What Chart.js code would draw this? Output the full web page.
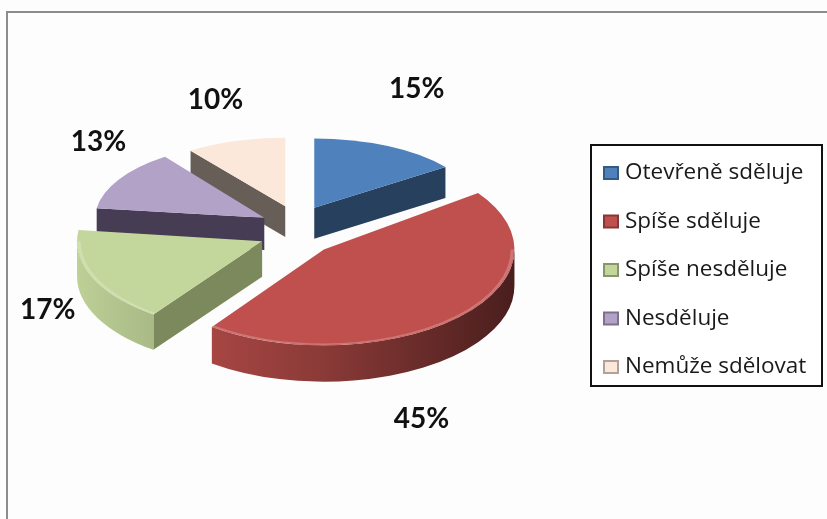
<!DOCTYPE html>
<html lang="cs">
<head>
<meta charset="UTF-8">
<title>Sdělování</title>
<script src="https://cdn.jsdelivr.net/npm/chart.js@4.4.0/dist/chart.umd.min.js"></script>
<style>
  html, body { margin: 0; padding: 0; background: #fdfdfd; }
  #wrap { position: relative; width: 827px; height: 519px; overflow: hidden; }
  #frame { position: absolute; left: 6px; top: 11px; width: 900px; height: 600px;
           border-left: 2px solid #8c8c8c; border-top: 2px solid #8c8c8c; }
  canvas { position: absolute; left: 0; top: 0; }
</style>
</head>
<body>
<div id="wrap">
  <div id="frame"></div>
  <canvas id="chart" width="827" height="519"></canvas>
</div>
<script>
const labels = ["Otevřeně sděluje", "Spíše sděluje", "Spíše nesděluje", "Nesděluje", "Nemůže sdělovat"];
const shares = [15, 45, 17, 13, 10];
const topColors = ["#4f81bd", "#c0504d", "#c3d69b", "#b2a2c7", "#fbe8da"];
const faceColors = ["#27405e", "#8a302d", "#7b895c", "#463c54", "#675e58"];

// 3d look of the pie
const TILT = 0.47;      // vertical squash of the top surface
const DEPTH = 34;       // thickness of the pie in px
const EXPLODE_X = 38;   // how far slices are pulled apart
const EXPLODE_Y = 26;
const PERSP = 0.1;      // front slices a bit bigger than back ones
const PERSP_Y = 0.1;
const labelGap = 55;
const labelNudge = [[4, -8], [-76, 26], [6, -24], [27, -9], [-3, 11]];

function shade(hex, f) {
  const n = parseInt(hex.slice(1), 16);
  const r = Math.round(((n >> 16) & 255) * f);
  const g = Math.round(((n >> 8) & 255) * f);
  const b = Math.round((n & 255) * f);
  return `rgb(${r},${g},${b})`;
}

function geom(arc) {
  const p = arc.getProps(["x", "y", "startAngle", "endAngle", "outerRadius"]);
  const mid = (p.startAngle + p.endAngle) / 2;
  const s = 1 + PERSP * Math.sin(mid);
  const sy = s * TILT * (1 + PERSP_Y * Math.sin(mid));
  return Object.assign(p, {
    mid, s, sy,
    ax: p.x + Math.cos(mid) * EXPLODE_X,
    ay: p.y + Math.sin(mid) * EXPLODE_Y,
    depth: DEPTH * s
  });
}

const pie3d = {
  id: "pie3d",
  beforeDatasetDraw(chart, args) {
    const ctx = chart.ctx;
    const arcs = args.meta.data;
    const order = arcs.map((a, i) => i)
      .sort((i, j) => Math.sin(geom(arcs[i]).mid) - Math.sin(geom(arcs[j]).mid));

    order.forEach(i => {
      const arc = arcs[i];
      const g = geom(arc);
      const r = g.outerRadius;
      const dl = g.depth / g.sy;
      ctx.save();
      ctx.translate(g.ax, g.ay);
      ctx.scale(g.s, g.sy);

      // radial cut faces that look towards the viewer
      const face = a => {
        ctx.beginPath();
        ctx.moveTo(0, 0);
        ctx.lineTo(r * Math.cos(a), r * Math.sin(a));
        ctx.lineTo(r * Math.cos(a), r * Math.sin(a) + dl);
        ctx.lineTo(0, dl);
        ctx.closePath();
        ctx.fillStyle = faceColors[i];
        ctx.fill();
      };
      if (Math.cos(g.startAngle) < -1e-6) face(g.startAngle);
      if (Math.cos(g.endAngle) > 1e-6) face(g.endAngle);

      // outer wall on the front half
      const w0 = Math.max(g.startAngle, 0);
      const w1 = Math.min(g.endAngle, Math.PI);
      if (w1 > w0) {
        const grad = ctx.createLinearGradient(-r, 0, r, 0);
        grad.addColorStop(0, shade(topColors[i], 0.97));
        grad.addColorStop(0.5, shade(topColors[i], 0.72));
        grad.addColorStop(1, shade(topColors[i], 0.38));
        ctx.beginPath();
        ctx.arc(0, 0, r, w0, w1);
        ctx.lineTo(r * Math.cos(w1), r * Math.sin(w1) + dl);
        ctx.arc(0, dl, r, w1, w0, true);
        ctx.closePath();
        ctx.fillStyle = grad;
        ctx.fill();
      }

      // top surface, drawn by the arc element itself
      ctx.save();
      ctx.translate(-g.x, -g.y);
      arc.draw(ctx);
      ctx.restore();

      // soft bevel along the front rim
      if (w1 > w0) {
        ctx.beginPath();
        ctx.arc(0, 0, r - 2, w0, w1);
        ctx.lineWidth = 3;
        ctx.strokeStyle = "rgba(255,255,255,0.22)";
        ctx.stroke();
      }
      ctx.restore();
    });
    return false;
  },
  afterDraw(chart) {
    const ctx = chart.ctx;
    const arcs = chart.getDatasetMeta(0).data;

    // percentage labels
    ctx.save();
    ctx.font = "bold 28px Lato";
    ctx.fillStyle = "#111";
    ctx.textAlign = "center";
    ctx.textBaseline = "middle";
    arcs.forEach((arc, i) => {
      const g = geom(arc);
      const c = Math.cos(g.mid), sn = Math.sin(g.mid);
      let x = g.ax + c * (g.outerRadius * g.s + labelGap);
      let y = g.ay + sn * (g.outerRadius * g.sy + labelGap) + (sn > 0 ? g.depth : 0);
      x += labelNudge[i][0];
      y += labelNudge[i][1];
      ctx.fillText(shares[i] + "%", x, y);
    });
    ctx.restore();

    // legend box
    const box = { left: 591, top: 145, right: 822, bottom: 386 };
    ctx.save();
    ctx.fillStyle = "#ffffff";
    ctx.fillRect(box.left, box.top, box.right - box.left, box.bottom - box.top);
    ctx.lineWidth = 2;
    ctx.strokeStyle = "#111";
    ctx.strokeRect(box.left, box.top, box.right - box.left, box.bottom - box.top);
    ctx.font = "22.5px 'Open Sans'";
    ctx.textBaseline = "middle";
    labels.forEach((lab, i) => {
      const y = box.top + 28 + i * 48.5;
      ctx.fillStyle = shade(topColors[i], 0.7);
      ctx.fillRect(603, y - 7, 16, 14);
      ctx.fillStyle = topColors[i];
      ctx.fillRect(605, y - 5, 12, 10);
      ctx.fillStyle = "#1a1a1a";
      ctx.fillText(lab, 625, y);
    });
    ctx.restore();
  }
};

const ctx = document.getElementById("chart").getContext("2d");
new Chart(ctx, {
  type: "pie",
  data: {
    labels: labels,
    datasets: [{
      data: shares,
      backgroundColor: topColors,
      borderWidth: 0,
      radius: 178
    }]
  },
  options: {
    responsive: false,
    animation: false,
    layout: { padding: { left: 0, right: 233, top: 0, bottom: 57 } },
    plugins: {
      legend: { display: false },
      tooltip: { enabled: false }
    }
  },
  plugins: [pie3d]
});
</script>
</body>
</html>
